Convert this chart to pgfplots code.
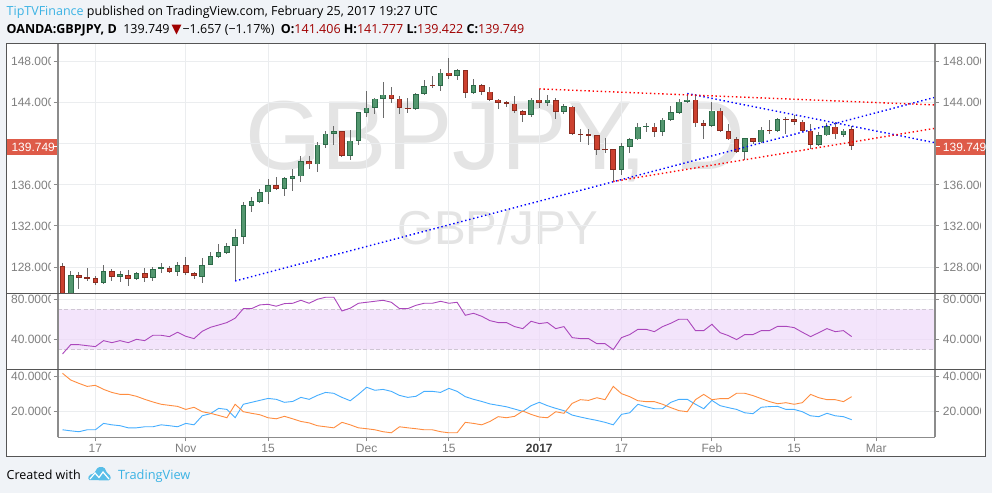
\documentclass[border=0pt]{standalone}
\usepackage{pgfplots}
\pgfplotsset{compat=1.18}
\usepackage{pgfplotstable}
\usepackage{fontspec}
\setmainfont{Liberation Sans}
\newfontfamily\osans{Open Sans}
\newfontfamily\dejavu{DejaVu Sans}
\definecolor{pagebg}{HTML}{F0F3F7}
\definecolor{framec}{HTML}{555555}
\definecolor{scalec}{HTML}{8C8C8C}
\definecolor{gridc}{HTML}{EBEDEF}
\definecolor{lbl}{HTML}{7F7F7F}
\definecolor{gfill}{HTML}{53976F}
\definecolor{gedge}{HTML}{2C6A48}
\definecolor{rfill}{HTML}{CC412F}
\definecolor{redge}{HTML}{8A2B1F}
\definecolor{wick}{HTML}{6B6B6B}
\definecolor{tag}{HTML}{DE5B49}
\definecolor{tvblue}{HTML}{3BB3E4}
\definecolor{rsi}{HTML}{AB47BC}
\definecolor{band}{HTML}{EFD9FA}
\definecolor{bandl}{HTML}{CFC6D4}
\definecolor{plus}{HTML}{45AEFF}
\definecolor{minus}{HTML}{FF8D3F}
\definecolor{mark}{HTML}{E4E4E4}
\definecolor{valred}{HTML}{A00000}

% i bottom-of-body top-of-body high low
\pgfplotstableread{
i bot top hi lo
1 125.00 127.19 127.64 124.80
5 126.48 127.64 128.16 126.44
7 127.06 127.29 127.58 126.54
9 126.87 127.45 127.51 126.74
11 126.96 127.84 127.97 126.67
12 127.84 127.97 128.36 127.38
14 127.55 128.23 128.45 127.12
17 127.06 128.23 128.84 126.44
18 128.23 129.04 129.43 128.23
19 129.01 129.43 130.20 128.94
20 129.39 130.08 130.30 129.26
21 130.08 130.95 131.66 126.64
22 130.95 134.00 134.29 130.27
23 133.97 134.39 134.84 133.35
24 134.36 135.26 135.59 134.23
25 135.26 135.94 136.53 134.16
27 135.62 136.63 136.79 134.94
28 136.59 136.82 137.50 135.39
29 136.82 138.34 138.77 136.27
31 137.99 139.93 140.22 137.27
32 139.93 141.00 141.23 139.61
33 140.94 141.20 141.72 139.87
35 138.83 140.32 141.33 138.41
36 140.29 143.05 143.11 139.87
37 143.01 143.53 145.12 142.59
38 143.50 144.41 144.50 142.88
39 144.34 144.80 146.00 142.49
43 143.40 144.89 144.99 143.37
44 144.86 145.67 146.26 144.83
46 145.64 146.94 147.33 145.15
48 146.61 147.16 147.26 146.19
50 144.93 145.70 146.29 144.83
57 142.82 144.31 144.50 142.62
59 143.99 144.31 144.80 143.66
61 143.11 143.66 143.92 142.88
68 137.47 139.74 140.03 137.01
69 139.71 140.42 140.61 139.06
70 140.42 141.68 142.07 140.39
71 141.65 141.72 141.98 141.13
73 141.16 142.36 142.53 140.78
74 142.36 143.05 143.66 142.30
75 143.01 144.12 144.41 142.88
76 144.05 144.31 144.89 143.99
79 141.75 143.24 144.08 141.65
83 139.25 140.52 140.58 138.47
85 140.13 141.39 141.59 140.09
87 141.26 142.40 142.53 141.23
92 139.90 140.81 141.16 139.87
93 140.81 141.72 141.98 140.78
95 140.87 141.29 141.46 140.68
}\greentable
\pgfplotstableread{
i bot top hi lo
0 124.90 128.06 128.36 124.50
2 126.93 127.19 127.48 125.83
3 126.87 126.99 127.87 126.67
4 126.48 126.90 127.16 126.28
6 127.06 127.64 127.77 126.61
8 126.87 127.25 127.68 126.15
10 126.96 127.45 127.90 126.51
13 127.55 127.94 128.10 127.45
15 127.45 128.23 128.94 127.19
16 127.09 127.45 127.51 126.80
26 135.62 135.94 136.72 135.55
30 137.99 138.34 138.77 137.53
34 138.83 141.20 141.26 138.80
40 144.34 144.80 145.51 144.02
41 143.50 144.41 144.70 142.88
42 143.40 143.53 144.44 142.98
45 145.64 145.70 146.58 145.44
47 146.61 146.94 148.33 146.32
49 144.96 147.16 147.23 144.47
51 145.06 145.70 145.80 144.80
52 144.31 145.09 145.51 144.25
53 143.99 144.31 144.41 143.40
54 143.89 144.05 144.15 143.60
55 143.18 143.92 144.63 143.01
56 142.82 143.21 143.34 142.10
58 143.99 144.31 145.35 143.50
60 143.11 144.28 144.50 142.43
62 140.97 143.63 143.69 140.94
63 140.84 141.00 141.42 140.19
64 140.78 140.91 141.42 139.87
65 139.41 140.81 140.87 138.89
66 139.41 139.48 140.55 139.12
67 137.47 139.45 139.48 136.33
72 141.16 141.68 141.98 140.65
77 141.98 144.31 144.83 141.65
78 141.75 141.98 142.30 140.42
80 141.23 143.24 143.53 141.13
81 140.42 141.20 141.91 140.35
82 139.25 140.42 140.68 139.19
84 140.19 140.52 140.61 139.96
86 141.23 141.39 142.30 141.00
88 142.36 142.43 142.62 140.94
89 142.14 142.40 142.85 141.88
90 141.26 142.17 142.36 141.20
91 139.90 141.29 141.91 139.54
94 140.91 141.68 142.14 140.45
96 139.749 141.406 141.777 139.422
}\redtable
\pgfplotstableread{
i rsi plus minus
0 25.8 9.8 41.7
1 35.0 9.2 37.9
2 35.0 8.7 36.0
3 34.0 9.8 34.3
4 33.1 9.8 34.9
5 39.0 13.4 32.6
6 37.0 12.6 30.9
7 39.0 12.1 29.8
8 37.0 10.9 29.8
9 40.3 10.9 28.7
10 39.0 11.5 27.0
11 44.3 11.5 25.5
12 44.3 12.6 24.2
13 43.0 12.1 23.6
14 47.3 11.5 23.0
15 43.3 13.4 21.3
16 41.0 12.6 22.5
17 48.3 17.7 20.0
18 52.2 18.9 19.1
19 54.5 21.9 17.9
20 56.9 21.3 16.6
21 61.2 16.6 24.2
22 70.7 24.2 20.0
23 70.7 25.3 19.1
24 74.4 26.4 18.3
25 75.0 27.5 16.6
26 73.1 27.0 16.0
27 75.7 25.3 17.4
28 76.0 25.8 16.0
29 79.0 28.1 14.5
30 76.0 27.0 13.7
31 80.0 29.2 12.1
32 82.0 30.9 11.5
33 82.0 30.4 10.9
34 68.4 28.1 14.0
35 71.1 26.2 12.6
36 76.0 29.8 10.9
37 77.0 33.8 10.4
38 78.0 32.1 9.8
39 79.0 32.6 8.7
40 77.0 31.5 8.1
41 70.7 29.2 11.5
42 70.7 28.1 10.9
43 74.0 28.7 10.4
44 76.0 31.5 9.8
45 76.0 31.5 9.8
46 78.0 30.9 8.7
47 76.0 33.2 8.1
48 77.0 31.5 8.1
49 64.1 28.5 14.0
50 66.1 27.0 13.4
51 63.1 25.8 12.6
52 58.8 24.4 14.5
53 56.9 23.6 17.2
54 56.9 22.8 16.6
55 52.9 21.5 17.4
56 50.9 20.2 20.4
57 58.2 23.4 18.5
58 55.9 25.3 17.0
59 56.9 23.4 16.6
60 50.9 21.9 20.0
61 52.9 20.6 19.1
62 42.0 18.1 24.7
63 41.0 17.0 26.8
64 41.0 16.0 26.4
65 36.0 15.1 27.9
66 36.0 14.0 26.8
67 30.1 12.6 34.3
68 42.0 18.5 30.2
69 45.0 19.4 28.5
70 50.2 24.2 26.2
71 50.2 22.8 25.7
72 47.9 21.7 25.7
73 52.9 21.7 24.2
74 56.2 25.3 22.3
75 60.2 27.0 20.6
76 60.2 27.0 20.0
77 48.9 24.2 26.8
78 48.9 21.7 29.8
79 55.2 26.4 26.8
80 46.9 23.4 27.4
81 44.0 22.3 27.4
82 40.0 21.3 30.4
83 45.0 19.4 30.4
84 45.0 18.9 29.1
85 48.9 22.5 27.4
86 48.9 22.9 25.7
87 53.2 23.0 24.5
88 53.2 21.3 25.1
89 51.9 21.3 24.2
90 47.3 20.0 25.1
91 43.0 17.7 29.8
92 46.9 17.2 27.9
93 50.9 19.1 26.8
94 47.9 17.7 26.8
95 48.9 17.2 25.7
96 43.0 15.5 28.5
}\indtable

\pgfplotsset{
  panel/.style={
    scale only axis, anchor=south west,
    width=877.5pt,
    xmin=-0.608, xmax=106.14,
    xtick={4,15,25,37,47,58,68,79,89,99},
    xticklabels={},
    grid=major,
    major grid style={draw=gridc,line width=1pt},
    axis line style={draw=none},
    tick style={draw=scalec,line width=1pt},
    major tick length=4pt,
    tick align=outside,
    ytick pos=both,
    xtick pos=bottom,
    yticklabels={},
  },
  scalelab/.style 2 args={
    scale only axis, anchor=south west,
    width=877.5pt,
    xmin=0, xmax=1, xtick=\empty,
    axis line style={draw=none},
    tick style={draw=none},
    major tick length=0pt,
    ytick=#1,
    yticklabel style={
      text=lbl, inner sep=0pt,
      font=\fontsize{12}{14}\selectfont,
      /pgf/number format/fixed, /pgf/number format/fixed zerofill, /pgf/number format/precision=#2, /pgf/number format/1000 sep={}, /pgf/number format/assume math mode=true},
  },
}
\newcommand\drawcandles[3]{%
  \addplot[draw=none,forget plot,error bars/.cd,y dir=both,y explicit,error mark=none,
    error bar style={draw=wick,line width=1pt}]
    table[x=i,y=bot,y error plus expr=\thisrow{hi}-\thisrow{bot},y error minus expr=\thisrow{bot}-\thisrow{lo}]{#1};
  \addplot[draw=none,forget plot,error bars/.cd,y dir=plus,y explicit,error mark=none,
    error bar style={draw=#2,line width=5.6pt}]
    table[x=i,y=bot,y error plus expr=\thisrow{top}-\thisrow{bot}]{#1};
  \addplot[draw=none,forget plot,error bars/.cd,y dir=plus,y explicit,error mark=none,
    error bar style={draw=#3,line width=3.6pt}]
    table[x=i,y expr=\thisrow{bot}+0.09,y error plus expr={max(\thisrow{top}-\thisrow{bot}-0.18,0)}]{#1};
}
\newcommand\leftlabels[6]{% bottom height ymin ymax ticks prec
  \begin{scope}
    \clip (6.5pt,#1pt) rectangle (50pt,#1pt+#2pt);
    \begin{axis}[at={(57.5pt,#1pt)},height=#2pt,ymin=#3,ymax=#4,
      scalelab={#5}{#6},yticklabel pos=left,
      yticklabel style={anchor=east,xshift=-2.8pt}]
    \end{axis}
  \end{scope}}
\newcommand\rightlabels[6]{%
  \begin{scope}
    \clip (936pt,#1pt) rectangle (980pt,#1pt+#2pt);
    \begin{axis}[at={(57.5pt,#1pt)},height=#2pt,ymin=#3,ymax=#4,
      scalelab={#5}{#6},yticklabel pos=right,
      yticklabel style={anchor=west,xshift=7.7pt}]
    \end{axis}
  \end{scope}}

\begin{document}
\begin{tikzpicture}[x=1pt,y=1pt]
\useasboundingbox (0,0) rectangle (992,493);
\fill[pagebg] (0,0) rectangle (992,493);
\fill[white] (6.5,36.3) rectangle (985.7,449.7);
% watermarks
\node[anchor=base west,inner sep=0pt,text=mark,font=\fontsize{98}{98}\selectfont] at (245.5,323) {GBPJPY, D};
\node[anchor=base west,inner sep=0pt,text=mark,font=\fontsize{47.5}{48}\selectfont] at (397,248) {GBP/JPY};

% price panel
\begin{axis}[panel,at={(57.5pt,199.7pt)},height=249.7pt,
  ymin=125.44,ymax=149.76,ytick={128,132,136,140,144,148},
  xtick style={draw=none}]
  \drawcandles{\greentable}{gedge}{gfill}
  \drawcandles{\redtable}{redge}{rfill}
  \addplot[blue,line width=1.4pt,dash pattern=on 1.4pt off 2.7pt] coordinates {(21,126.64)(106,144.5)};
  \addplot[blue,line width=1.4pt,dash pattern=on 1.4pt off 2.7pt] coordinates {(76,144.9)(106,140.13)};
  \addplot[red,line width=1.4pt,dash pattern=on 1.4pt off 2.7pt] coordinates {(58,145.35)(106,143.79)};
  \addplot[red,line width=1.4pt,dash pattern=on 1.4pt off 2.7pt] coordinates {(67,136.33)(106,141.49)};
\end{axis}
% RSI panel
\begin{axis}[panel,at={(57.5pt,123.7pt)},height=76pt,
  ymin=10.6,ymax=85.9,ytick={40,80},xtick style={draw=none}]
  \addplot[draw=none,fill=band,opacity=0.7,forget plot] coordinates {(-0.608,30)(106.14,30)(106.14,70)(-0.608,70)} \closedcycle;
  \addplot[bandl,line width=1pt,dash pattern=on 4pt off 2.5pt] coordinates {(-0.608,70)(106.14,70)};
  \addplot[bandl,line width=1pt,dash pattern=on 4pt off 2.5pt] coordinates {(-0.608,30)(106.14,30)};
  \addplot[rsi,line width=0.9pt] table[x=i,y=rsi]{\indtable};
\end{axis}
% DI panel
\begin{axis}[panel,at={(57.5pt,55.7pt)},height=68pt,
  ymin=5.55,ymax=43.95,ytick={20,40},
  xticklabels={17,Nov,15,Dec,15,\textcolor{black!75}{\textbf{2017}},17,Feb,15,Mar},
  x tick label style={text=lbl,inner sep=0pt,anchor=center,yshift=-7pt,
     font=\fontsize{12}{14}\selectfont},
  ]
  \addplot[plus,line width=0.9pt] table[x=i,y=plus]{\indtable};
  \addplot[minus,line width=0.9pt] table[x=i,y=minus]{\indtable};
\end{axis}

% scale labels
\leftlabels{199.7}{249.7}{125.44}{149.76}{{128,132,136,144,148}}{3}
\rightlabels{199.7}{249.7}{125.44}{149.76}{{128,132,136,144,148}}{3}
\leftlabels{123.7}{76}{10.6}{85.9}{{40,80}}{4}
\rightlabels{123.7}{76}{10.6}{85.9}{{40,80}}{4}
\leftlabels{55.7}{68}{5.55}{43.95}{{20,40}}{4}
\rightlabels{55.7}{68}{5.55}{43.95}{{20,40}}{4}

% frame
\draw[scalec,line width=2pt] (57.5,199.7) -- (57.5,449.7);
\draw[scalec,line width=2pt] (57.5,55.7) -- (57.5,199.7);
\draw[scalec,line width=2pt] (935,55.7) -- (935,449.7);
\draw[scalec,line width=1.5pt] (57.5,55.7) -- (935,55.7);
\draw[framec,line width=1pt] (6.5,199.7) -- (985.7,199.7);
\draw[framec,line width=1pt] (6.5,123.7) -- (985.7,123.7);
\draw[framec,line width=1pt] (6.5,36.3) rectangle (985.7,449.7);

% last price tags
\fill[tag] (6.5,338) rectangle (56.5,354);
\fill[tag] (936,338) rectangle (984.5,353.5);
\node[anchor=west,inner sep=0pt,text=white,font=\fontsize{12}{14}\selectfont] at (11.3,346) {139.749};
\node[anchor=west,inner sep=0pt,text=white,font=\fontsize{12}{14}\selectfont] at (942.7,346) {139.749};
\draw[white,line width=1pt] (53.3,346) -- (56.5,346);
\draw[white,line width=1pt] (936,346) -- (940,346);

% header
\node[anchor=base west,inner sep=0pt,font=\osans\fontsize{12.5}{14}\selectfont] at (6.5,477.5)
  {\textcolor{tvblue}{TipTVFinance} published on TradingView.com, February 25, 2017 19:27 UTC};
\node[anchor=base west,inner sep=0pt,font=\osans\fontsize{12.5}{14}\selectfont] at (6.5,459.5)
  {\textbf{OANDA:GBPJPY, D}\ \ 139.749\kern2pt{\dejavu\fontsize{13}{13}\selectfont\textcolor{valred}{▼}}\kern1pt −1.657 (−1.17\%)\ \ \textbf{O:}\textcolor{valred}{141.406} \textbf{H:}\textcolor{valred}{141.777} \textbf{L:}\textcolor{valred}{139.422} \textbf{C:}\textcolor{valred}{139.749}};
% footer
\node[anchor=base west,inner sep=0pt,font=\osans\fontsize{12.5}{14}\selectfont] at (6.5,13.5) {Created with};
\node[anchor=base west,inner sep=0pt,text=tvblue,font=\osans\fontsize{12.8}{14}\selectfont] at (118,13.5) {TradingView};
\fill[tvblue!85!white,rounded corners=1.5pt] (88,13) -- (89,18) -- (94,19.5) -- (98,26) -- (104,26) -- (107,20) -- (111,17) -- (110,12.5) -- cycle;
\draw[white,line width=1.2pt] (90,14) -- (95,20) -- (99,15.5) -- (103,21) -- (109,14);
\end{tikzpicture}
\end{document}
